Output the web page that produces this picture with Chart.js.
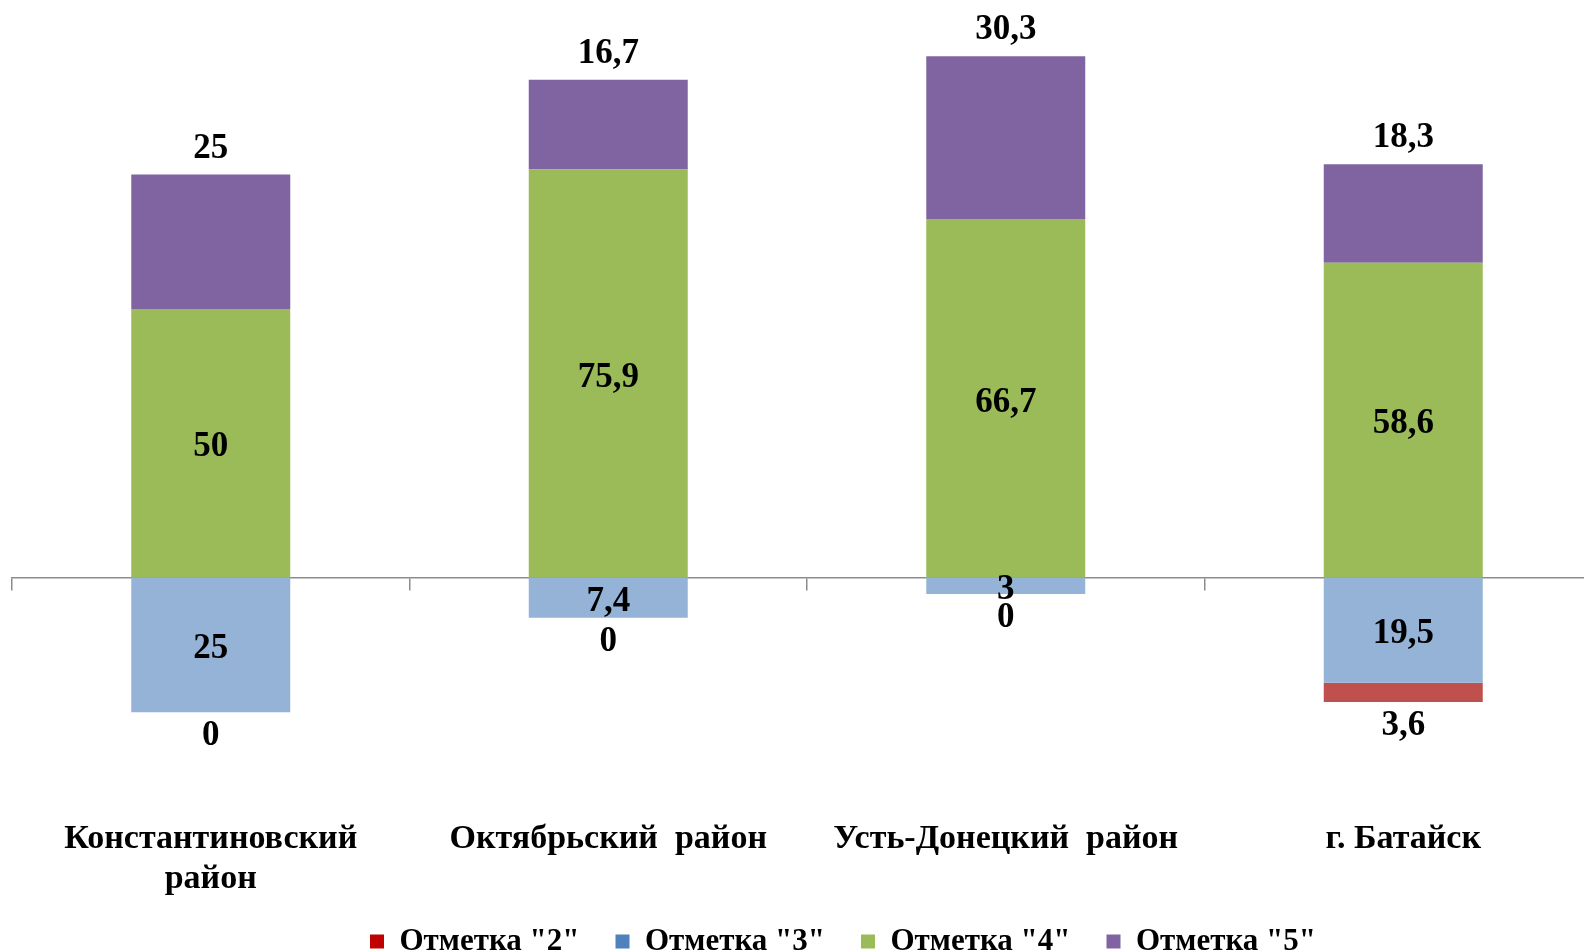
<!DOCTYPE html>
<html>
<head>
<meta charset="utf-8">
<script src="https://cdn.jsdelivr.net/npm/chart.js@4"></script>
<style>
  html, body { margin: 0; padding: 0; background: #fff; overflow: hidden; }
  #wrap { position: absolute; left: 0; top: 0; }
</style>
</head>
<body>
<div id="wrap"><canvas id="marksChart" width="1674" height="967"></canvas></div>
<script>
'use strict';

// data
let districts = [['Константиновский', 'район'], 'Октябрьский  район', 'Усть-Донецкий  район', 'г. Батайск'];
let mark2 = [0, 0, 0, 3.6];
let mark3 = [25, 7.4, 3, 19.5];
let mark4 = [50, 75.9, 66.7, 58.6];
let mark5 = [25, 16.7, 30.3, 18.3];

let serif = '"Liberation Serif", "Times New Roman", serif';

// legend squares are a bit darker than the bars for "2" and "3"
let swatches = {
  'Отметка "2"': '#C00000',
  'Отметка "3"': '#4F81BD',
  'Отметка "4"': '#9BBB59',
  'Отметка "5"': '#8064A2'
};

let ctx = document.getElementById('marksChart').getContext('2d');

// value labels (no datalabels plugin available)
let valueLabels = {
  id: 'valueLabels',
  afterDatasetsDraw (chart) {
    let c = chart.ctx;
    c.save();
    c.font = 'bold 35px ' + serif;
    c.fillStyle = '#000';
    c.textAlign = 'center';
    c.textBaseline = 'middle';
    chart.data.datasets.forEach((ds, i) => {
      chart.getDatasetMeta(i).data.forEach((bar, j) => {
        let text = String(Math.abs(ds.data[j])).replace('.', ',');
        let y;
        if (ds.labelPos === 'above') y = bar.y - 26;
        else if (ds.labelPos === 'below') y = bar.y + 24;
        else y = (bar.y + bar.base) / 2 + 4;
        c.fillText(text, bar.x, y);
      });
    });
    c.restore();
  }
};

// x axis is squeezed so the legend sits higher; let its labels draw past the box
let unclipLabels = {
  id: 'unclipLabels',
  afterLayout (chart) {
    chart.scales.x.bottom = chart.scales.x.top + 120;
  }
};

let chart = new Chart(ctx, {
  type: 'bar',
  data: {
    labels: districts,
    // "3" goes first so it sits next to the zero line, "2" stacks below it
    datasets: [{
      label: 'Отметка "3"',
      data: mark3.map(v => -v),
      backgroundColor: '#95B3D7',
      labelPos: 'middle'
    }, {
      label: 'Отметка "2"',
      data: mark2.map(v => -v),
      backgroundColor: '#C0504D',
      labelPos: 'below'
    }, {
      label: 'Отметка "4"',
      data: mark4,
      backgroundColor: '#9BBB59',
      labelPos: 'middle'
    }, {
      label: 'Отметка "5"',
      data: mark5,
      backgroundColor: '#8064A2',
      labelPos: 'above'
    }]
  },
  options: {
    responsive: false,
    animation: false,
    barPercentage: 0.4,
    categoryPercentage: 1,
    layout: { padding: { left: 12, top: 40, right: 0, bottom: 0 } },
    plugins: {
      legend: {
        position: 'bottom',
        labels: {
          font: { family: serif, size: 31, weight: 'bold' },
          color: '#000',
          boxWidth: 14,
          boxHeight: 14,
          padding: 36,
          sort: (a, b) => a.text.localeCompare(b.text),
          generateLabels: (chart) => {
            let items = Chart.defaults.plugins.legend.labels.generateLabels(chart);
            items.forEach(item => {
              item.fillStyle = swatches[item.text];
              item.strokeStyle = swatches[item.text];
              item.lineWidth = 0;
            });
            return items;
          }
        }
      },
      tooltip: { enabled: false }
    },
    scales: {
      x: {
        stacked: true,
        offset: true,
        grid: { display: false, drawTicks: false },
        border: { display: false },
        ticks: {
          font: { family: serif, size: 34, weight: 'bold', lineHeight: 1.18 },
          color: '#000',
          padding: 26,
          maxRotation: 0,
          autoSkip: false
        },
        afterFit: (scale) => { scale.height = 97; }
      },
      x2: {
        type: 'category',
        axis: 'x',
        position: { y: 0 },
        offset: true,
        z: 1,
        grid: { offset: true, drawOnChartArea: false, drawTicks: true, tickLength: 12, color: '#8C8C8C', lineWidth: 1.5 },
        border: { display: true, color: '#8C8C8C', width: 1.5 },
        ticks: { display: false }
      },
      y: {
        stacked: true,
        position: 'right',
        min: -40,
        max: 100,
        grid: { display: false, drawTicks: false },
        border: { display: false },
        ticks: { display: false },
        afterFit: (scale) => { scale.width = 72; }
      }
    }
  },
  plugins: [valueLabels, unclipLabels]
});
</script>
</body>
</html>
